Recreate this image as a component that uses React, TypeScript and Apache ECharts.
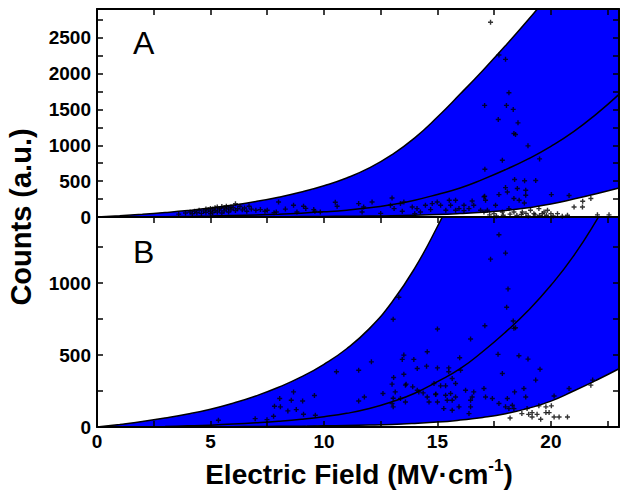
import React, { useEffect, useRef } from "react";
import * as echarts from "echarts";

// Electric field grid (MV/cm) for the fitted curves
const fieldGrid = [0, 1, 2, 3, 4, 5, 6, 7, 8, 9, 10, 11, 12, 13, 14, 15, 16, 17, 18, 19, 20, 21, 22, 23];
// Upper, middle and lower fitted curves (counts, a.u.)
const upperFit = [0, 18, 38, 62, 90, 124, 166, 216, 276, 348, 436, 544, 684, 869, 1104, 1394, 1714, 2044, 2389, 2749, 3129, 3529, 3959, 4409];
const middleFit = [0, 0.3, 1.5, 4, 8, 13, 20, 29, 40, 54, 72, 95, 128, 175, 235, 315, 405, 525, 660, 810, 985, 1190, 1435, 1710];
const lowerFit = [0, 0, 0.2, 0.6, 1, 1.5, 2.3, 3.3, 4.5, 6, 8, 10.5, 13.5, 18, 25, 34, 48, 66, 92, 130, 180, 250, 325, 405];

// Panel A measured points [field, counts]
const pointsA: [number, number][] = [
  [3.6, 40], [3.9, 55], [4.1, 70], [4.2, 45], [4.3, 80], [4.4, 60], [4.5, 95], [4.6, 50], [4.7, 85], [4.8, 110], [4.8, 65],
  [4.9, 100], [5.0, 120], [5.0, 80], [5.0, 45], [5.1, 110], [5.1, 60], [5.2, 130], [5.2, 90], [5.3, 140], [5.3, 70],
  [5.4, 120], [5.4, 100], [5.5, 145], [5.5, 55], [5.6, 130], [5.6, 85], [5.7, 150], [5.7, 110], [5.8, 125], [5.8, 70],
  [5.9, 140], [5.9, 100], [6.0, 130], [6.1, 185], [6.1, 90], [6.2, 115], [6.3, 150], [6.4, 100], [6.5, 125], [6.6, 80],
  [6.7, 149], [6.8, 110], [7.0, 95], [7.2, 103], [7.4, 80], [7.5, 94], [7.8, 60], [7.9, 70], [8.0, 210], [8.3, 110],
  [8.66, 163], [8.81, 70], [9.1, 149], [9.2, 120], [9.55, 103], [9.6, 80], [9.84, 70], [10.5, 205], [10.58, 150],
  [11.53, 187], [11.68, 70], [11.75, 140], [12.12, 210], [12.5, 50], [13.0, 265], [12.93, 163], [13.09, 117], [13.37, 187],
  [13.45, 80], [13.52, 210], [13.89, 140], [14.0, 45], [14.1, 117], [14.25, 70], [14.47, 163], [14.7, 103], [14.77, 187],
  [14.99, 210], [15.14, 163], [15.37, 94], [15.52, 233], [15.58, 163], [15.8, 233], [15.8, 94], [15.95, 117], [16.17, 163],
  [16.17, 89], [16.39, 117], [16.53, 224], [16.6, 163], [16.9, 94], [17.05, 280], [17.05, 70], [17.12, 233],
  [17.34, 2715], [17.71, 2258], [18.0, 2198], [18.15, 1732], [17.08, 1556], [18.04, 1556], [18.34, 1500], [17.68, 1360],
  [18.55, 1313], [18.37, 1165], [18.44, 1150], [18.99, 992], [17.86, 792], [19.5, 810], [17.09, 666], [18.4, 522],
  [18.84, 506], [19.33, 508], [18.0, 410], [18.08, 349], [18.52, 397], [18.89, 373], [18.89, 303], [17.08, 289],
  [17.71, 312], [18.37, 257], [18.6, 233], [18.83, 196], [20.02, 312], [20.8, 300], [21.76, 257], [21.4, 220],
  [21.02, 140], [21.39, 140], [17.2, 94], [17.56, 163], [18.15, 117], [19.1, 94], [19.47, 117], [19.85, 94], [20.0, 47],
  [20.29, 47], [20.73, 24], [22.05, 30], [22.56, 30], [19.25, 47], [18.37, 70], [17.86, 70], [17.49, 47], [18.74, 70],
  [19.62, 47], [17.3, 30], [17.9, 25], [18.2, 40], [18.5, 20], [18.7, 35], [19.0, 15], [19.3, 30], [19.5, 20], [19.8, 25],
  [20.1, 15], [20.5, 10], [17.6, 15], [18.9, 50], [19.7, 70],
];

// Panel B measured points [field, counts]
const pointsB: [number, number][] = [
  [5.35, 47], [6.97, 58], [7.49, 51], [7.78, 75], [7.82, 144], [8.05, 198], [8.08, 140], [8.41, 112], [8.56, 186],
  [8.66, 244], [8.78, 121], [9.06, 181], [9.1, 89], [9.58, 219], [9.62, 82], [10.55, 384], [11.53, 395], [11.53, 181],
  [11.78, 209], [12.09, 453], [12.6, 233], [13.0, 298], [13.0, 163], [13.05, 140], [13.07, 344], [13.14, 244],
  [13.05, 749], [13.3, 902], [13.45, 470], [13.52, 500], [13.52, 367], [13.62, 298], [13.37, 198], [13.59, 174],
  [13.96, 470], [13.91, 279], [14.11, 407], [14.11, 256], [14.18, 244], [14.37, 237], [14.52, 423], [14.55, 523],
  [14.55, 209], [14.63, 174], [14.85, 302], [14.93, 230], [15.0, 681], [15.0, 411], [13.05, 200], [13.59, 291],
  [17.71, 1337], [18.0, 1209], [17.34, 1167], [18.11, 960], [18.05, 833], [18.34, 737], [18.37, 686], [18.44, 690],
  [17.09, 704], [16.46, 612], [17.67, 505], [18.59, 495], [18.99, 472], [15.98, 481], [15.5, 411], [16.02, 395],
  [15.5, 384], [17.86, 372], [19.52, 402], [19.33, 326], [21.84, 326], [21.76, 291], [20.8, 268], [20.14, 216],
  [15.65, 337], [15.14, 286], [15.36, 286], [15.8, 302], [14.92, 226], [15.36, 221], [15.58, 233], [15.8, 209],
  [15.65, 186], [16.24, 256], [16.6, 244], [16.53, 209], [16.46, 186], [17.05, 268], [17.12, 209], [17.42, 198],
  [17.71, 163], [18.08, 198], [18.4, 244], [18.81, 268], [18.89, 209], [18.0, 140], [18.15, 128], [18.37, 128],
  [18.3, 151], [15.28, 128], [15.65, 116], [15.95, 140], [16.46, 140], [16.39, 93], [15.0, 174], [15.43, 186],
  [18.2, 63], [18.72, 93], [18.95, 128], [19.02, 88], [19.17, 70], [19.39, 88], [19.55, 54], [19.47, 147],
  [19.78, 140], [20.02, 147], [19.78, 100], [19.92, 100], [20.14, 70], [20.36, 70], [20.73, 70], [19.17, 100],
];

const xTickLabels = [0, 5, 10, 15, 20];
const yTickLabelsA = [0, 500, 1000, 1500, 2000, 2500];
const yTickLabelsB = [0, 500, 1000];

const X_MAX = 23;
const Y_MAX_A = 2900;
const Y_MAX_B = 1460;

const FONT = "'Liberation Sans', Arial, Helvetica, sans-serif";
const BLUE = "#0000ff";
const PLUS = "path://M1.8,0H3.2V1.8H5V3.2H3.2V5H1.8V3.2H0V1.8H1.8Z";

export default function App() {
  const ref = useRef<HTMLDivElement>(null);

  useEffect(() => {
    if (!ref.current) return;
    const chart = echarts.init(ref.current, undefined, { renderer: "svg" });

    const pairs = (vals: number[]) => fieldGrid.map((x, i) => [x, vals[i]]);

    const axisLine = { onZero: false, lineStyle: { color: "#000", width: 2 } };
    const tick = { show: true, inside: true, length: 6, lineStyle: { color: "#000", width: 1.5 } };
    const labelStyle = {
      color: "#000",
      fontSize: 19,
      fontWeight: "bold" as const,
      fontFamily: FONT,
    };

    const xAx = (gridIndex: number, position: string, showTick: boolean, showLabel: boolean) => ({
      type: "value",
      gridIndex,
      position,
      min: 0,
      max: X_MAX,
      interval: 2.5,
      z: 10,
      axisLine,
      axisTick: { ...tick, show: showTick },
      splitLine: { show: false },
      axisLabel: {
        show: showLabel,
        ...labelStyle,
        margin: 5,
        formatter: (v: number) => (xTickLabels.includes(v) ? String(v) : ""),
      },
    });

    const yAx = (gridIndex: number, position: string, max: number, labels: number[], showLabel: boolean) => ({
      type: "value",
      gridIndex,
      position,
      min: 0,
      max,
      interval: 250,
      z: 10,
      axisLine,
      axisTick: tick,
      splitLine: { show: false },
      axisLabel: {
        show: showLabel,
        ...labelStyle,
        margin: 6,
        formatter: (v: number) => (labels.includes(v) ? String(v) : ""),
      },
    });

    const panelSeries = (xi: number, yi: number, pts: [number, number][]) => {
      const base = { type: "line", xAxisIndex: xi, yAxisIndex: yi, symbol: "none", smooth: 0.5, silent: true, clip: true };
      return [
        { ...base, data: pairs(upperFit), lineStyle: { color: "#000", width: 1.5 }, areaStyle: { color: BLUE, opacity: 1, origin: "start" }, z: 1 },
        { ...base, data: pairs(lowerFit), lineStyle: { color: "#000", width: 1.5 }, areaStyle: { color: "#ffffff", opacity: 1, origin: "start" }, z: 2 },
        { ...base, data: pairs(middleFit), lineStyle: { color: "#000", width: 1.5 }, z: 3 },
        {
          type: "scatter",
          xAxisIndex: xi,
          yAxisIndex: yi,
          data: pts,
          symbol: PLUS,
          symbolSize: 5,
          itemStyle: { color: "#000" },
          silent: true,
          z: 4,
        },
      ];
    };

    chart.setOption({
      animation: false,
      backgroundColor: "#fff",
      grid: [
        { left: 97, top: 9, width: 522, height: 208 },
        { left: 97, top: 217, width: 522, height: 210 },
      ],
      xAxis: [
        xAx(0, "bottom", false, false),
        xAx(0, "top", true, false),
        xAx(1, "bottom", true, true),
        xAx(1, "top", true, false),
      ],
      yAxis: [
        yAx(0, "left", Y_MAX_A, yTickLabelsA, true),
        yAx(0, "right", Y_MAX_A, yTickLabelsA, false),
        yAx(1, "left", Y_MAX_B, yTickLabelsB, true),
        yAx(1, "right", Y_MAX_B, yTickLabelsB, false),
      ],
      series: [...panelSeries(0, 0, pointsA), ...panelSeries(2, 2, pointsB)],
      graphic: [
        {
          type: "text",
          x: 133,
          y: 43,
          z: 20,
          style: { text: "A", fontSize: 32, fontFamily: FONT, fill: "#000", verticalAlign: "middle", align: "left" },
        },
        {
          type: "text",
          x: 133,
          y: 252,
          z: 20,
          style: { text: "B", fontSize: 32, fontFamily: FONT, fill: "#000", verticalAlign: "middle", align: "left" },
        },
        {
          type: "text",
          x: 21,
          y: 217,
          rotation: Math.PI / 2,
          z: 20,
          style: {
            text: "Counts (a.u.)",
            fontSize: 29,
            fontWeight: "bold",
            fontFamily: FONT,
            fill: "#000",
            align: "center",
            verticalAlign: "middle",
          },
        },
        {
          type: "text",
          x: 359,
          y: 474,
          z: 20,
          style: {
            text: "{a|Electric Field (MV·cm}{s|-1}{a|)}",
            align: "center",
            verticalAlign: "middle",
            fill: "#000",
            rich: {
              a: { fontSize: 28, fontWeight: "bold", fontFamily: FONT, fill: "#000", lineHeight: 34 },
              s: { fontSize: 17, fontWeight: "bold", fontFamily: FONT, fill: "#000", verticalAlign: "top", lineHeight: 34 },
            },
          },
        },
      ],
    });

    return () => chart.dispose();
  }, []);

  return (
    <div
      ref={ref}
      style={{ position: "fixed", left: 0, top: 0, width: 629, height: 501, background: "#fff" }}
    />
  );
}
